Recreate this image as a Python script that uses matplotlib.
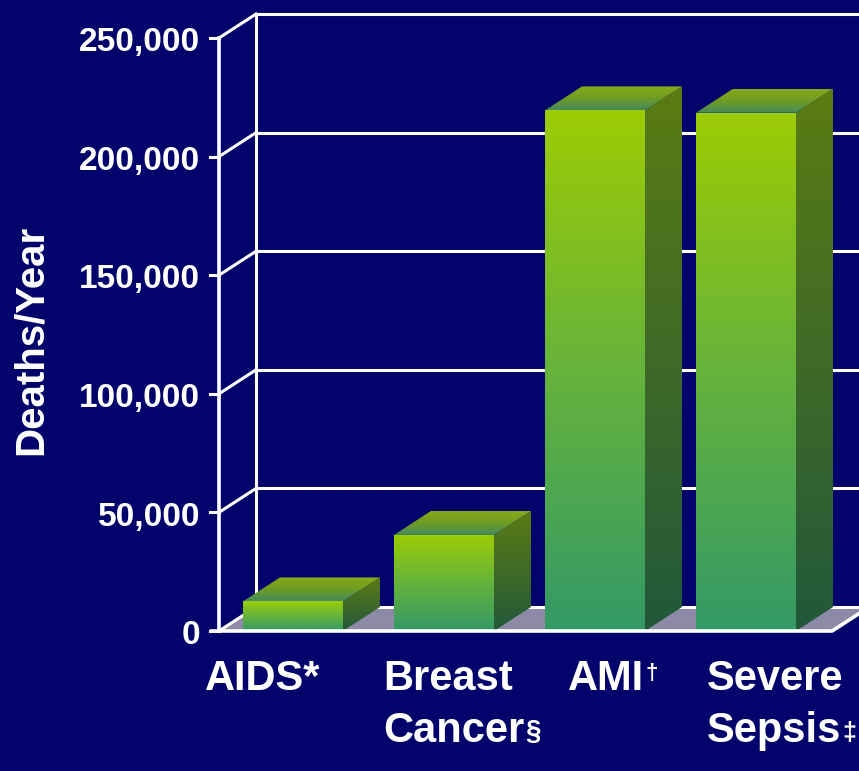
import numpy as np
import matplotlib.pyplot as plt
from matplotlib.colors import LinearSegmentedColormap
from matplotlib.patches import Polygon

# data
categories = ["AIDS*", "Breast\nCancer", "AMI", "Severe\nSepsis"]
footnotes = ["", "§", "†", "‡"]
deaths = [12500, 40500, 219500, 218500]
yticks = [0, 50000, 100000, 150000, 200000, 250000]
ytick_labels = ["0", "50,000", "100,000", "150,000", "200,000", "250,000"]
ylabel = "Deaths/Year"

NAVY = "#03036c"
FLOOR = "#8c8aa6"
front_cmap = LinearSegmentedColormap.from_list("front", ["#339966", "#66b33c", "#9ccc04"])
side_cmap = LinearSegmentedColormap.from_list("side", ["#22583a", "#3f6a28", "#5a7c12"])
top_cmap = LinearSegmentedColormap.from_list("top", ["#468a5e", "#6e9c22", "#86aa18"])

# 3D box geometry: x in category units, y in deaths
half_w = 0.331
dx, dy = 0.245, 10100
x_axis = -0.49
x_floor_end = 3.57
x_right = 3.748

plt.rcParams['font.family'] = ['Liberation Sans', 'DejaVu Sans']


def gradient_poly(ax, verts, cmap, z):
    poly = Polygon(verts, closed=True, facecolor='none', edgecolor='none')
    ax.add_patch(poly)
    xs, ys = zip(*verts)
    grad = np.linspace(0, 1, 256).reshape(-1, 1)
    im = ax.imshow(grad, cmap=cmap, origin='lower', aspect='auto',
                   extent=[min(xs), max(xs), min(ys), max(ys)],
                   interpolation='bilinear', zorder=z)
    im.set_clip_path(poly)


fig = plt.figure(figsize=(8.59, 7.71), dpi=100)
fig.patch.set_facecolor(NAVY)
ax = fig.add_axes([0, 0, 1, 1])
ax.set_facecolor(NAVY)

# floor
floor = Polygon([(x_axis, 0), (x_floor_end, 0), (x_floor_end + dx, dy), (x_axis + dx, dy)],
                closed=True, facecolor=FLOOR, edgecolor='none', zorder=1)
ax.add_patch(floor)

# walls: back gridlines, side diagonals, axes
lw = 2.2
for t in yticks:
    ax.plot([x_axis + dx, x_right + 1], [t + dy, t + dy], color='white', lw=lw, zorder=2)
    ax.plot([x_axis, x_axis + dx], [t, t + dy], color='white', lw=lw, zorder=2)
    ax.plot([x_axis - 0.06, x_axis], [t, t], color='white', lw=lw, zorder=2)
ax.plot([x_axis + dx, x_axis + dx], [dy, yticks[-1] + dy], color='white', lw=lw, zorder=2)
ax.plot([x_axis, x_axis], [0, yticks[-1]], color='white', lw=lw + 0.4, zorder=2)

# bars
for i, v in enumerate(deaths):
    x0, x1 = i - half_w, i + half_w
    gradient_poly(ax, [(x1, 0), (x1 + dx, dy), (x1 + dx, v + dy), (x1, v)], side_cmap, 3)
    gradient_poly(ax, [(x0, v), (x1, v), (x1 + dx, v + dy), (x0 + dx, v + dy)], top_cmap, 3)
    gradient_poly(ax, [(x0, 0), (x1, 0), (x1, v), (x0, v)], front_cmap, 4)

# floor front edge
ax.plot([x_axis - 0.06, x_floor_end, x_floor_end + dx], [0, 0, dy],
        color='white', lw=lw + 0.4, zorder=5, solid_capstyle='butt')

# tick labels
for t, lab in zip(yticks, ytick_labels):
    ax.text(x_axis - 0.125, t - 2000, lab, ha='right', va='center', fontsize=24,
            fontweight='bold', color='white')

ax.text(-1.735, 122700, ylabel, rotation=90, ha='center', va='center', fontsize=29,
        fontweight='bold', color='white')

# category labels, one text per line so the footnote marks sit on the last line
label_x = [-0.58, -0.40, -0.18, -0.26]
baselines = [-24900, -46800]
note_size = {"§": 20, "†": 16, "‡": 18}
for i, (cat, note) in enumerate(zip(categories, footnotes)):
    lines = cat.split("\n")
    txt = None
    for line, yb in zip(lines, baselines):
        txt = ax.text(i + label_x[i], yb, line, ha='left', va='baseline', fontsize=30,
                      fontweight='bold', color='white')
    if not note:
        continue
    if len(lines) > 1:
        ax.annotate(note, xy=(1, 0), xycoords=txt, xytext=(0.5, 4),
                    textcoords='offset points', ha='left', va='bottom',
                    fontsize=note_size[note], fontweight='bold', color='white')
    else:
        ax.annotate(note, xy=(1, 1), xycoords=txt, xytext=(1, -3),
                    textcoords='offset points', ha='left', va='top',
                    fontsize=note_size[note], fontweight='bold', color='white')

ax.set_xlim(-1.940, x_right)
ax.set_ylim(-59022, 266020)
ax.axis('off')

fig.savefig("out.png", dpi=100, facecolor=NAVY)
